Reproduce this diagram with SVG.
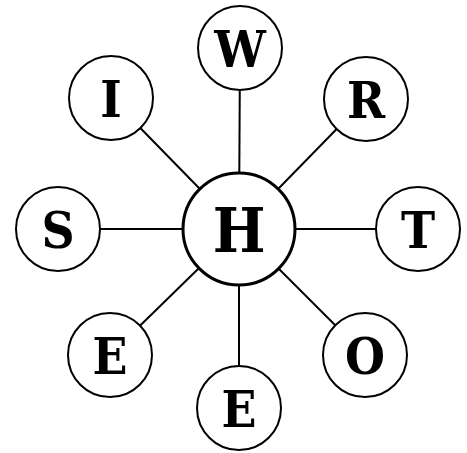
<svg xmlns="http://www.w3.org/2000/svg" width="467" height="453" viewBox="0 0 467 453">
<style>
.c{fill:#fff;stroke:#000;stroke-width:2}
.hc{fill:#fff;stroke:#000;stroke-width:3}
.t{font-family:"DejaVu Serif",serif;font-weight:bold;font-stretch:condensed;font-size:51px;text-anchor:middle;fill:#000}
.ht{font-size:62px}
#edges line{stroke:#000;stroke-width:2}
</style>
<rect width="467" height="453" fill="#fff"/>
<g id="edges">
<line x1="239" y1="229" x2="240" y2="48"/>
<line x1="239" y1="229" x2="366" y2="99"/>
<line x1="239" y1="229" x2="418" y2="229"/>
<line x1="239" y1="229" x2="365" y2="355"/>
<line x1="239" y1="229" x2="239" y2="408"/>
<line x1="239" y1="229" x2="110" y2="355"/>
<line x1="239" y1="229" x2="58" y2="229"/>
<line x1="239" y1="229" x2="111" y2="98"/>
</g>
<g id="H"><circle class="hc" cx="239" cy="229" r="56"/><text class="t ht" x="239" y="252">H</text></g>
<g id="W"><circle class="c" cx="240" cy="48" r="42"/><text class="t" x="240" y="67">W</text></g>
<g id="R"><circle class="c" cx="366" cy="99" r="42"/><text class="t" x="366" y="118">R</text></g>
<g id="T"><circle class="c" cx="418" cy="229" r="42"/><text class="t" x="418" y="248">T</text></g>
<g id="O"><circle class="c" cx="365" cy="355" r="42"/><text class="t" x="365" y="374">O</text></g>
<g id="E1"><circle class="c" cx="239" cy="408" r="42"/><text class="t" x="239" y="427">E</text></g>
<g id="E2"><circle class="c" cx="110" cy="355" r="42"/><text class="t" x="110" y="374">E</text></g>
<g id="S"><circle class="c" cx="58" cy="229" r="42"/><text class="t" x="58" y="248">S</text></g>
<g id="I"><circle class="c" cx="111" cy="98" r="42"/><text class="t" x="111" y="117">I</text></g>
</svg>
